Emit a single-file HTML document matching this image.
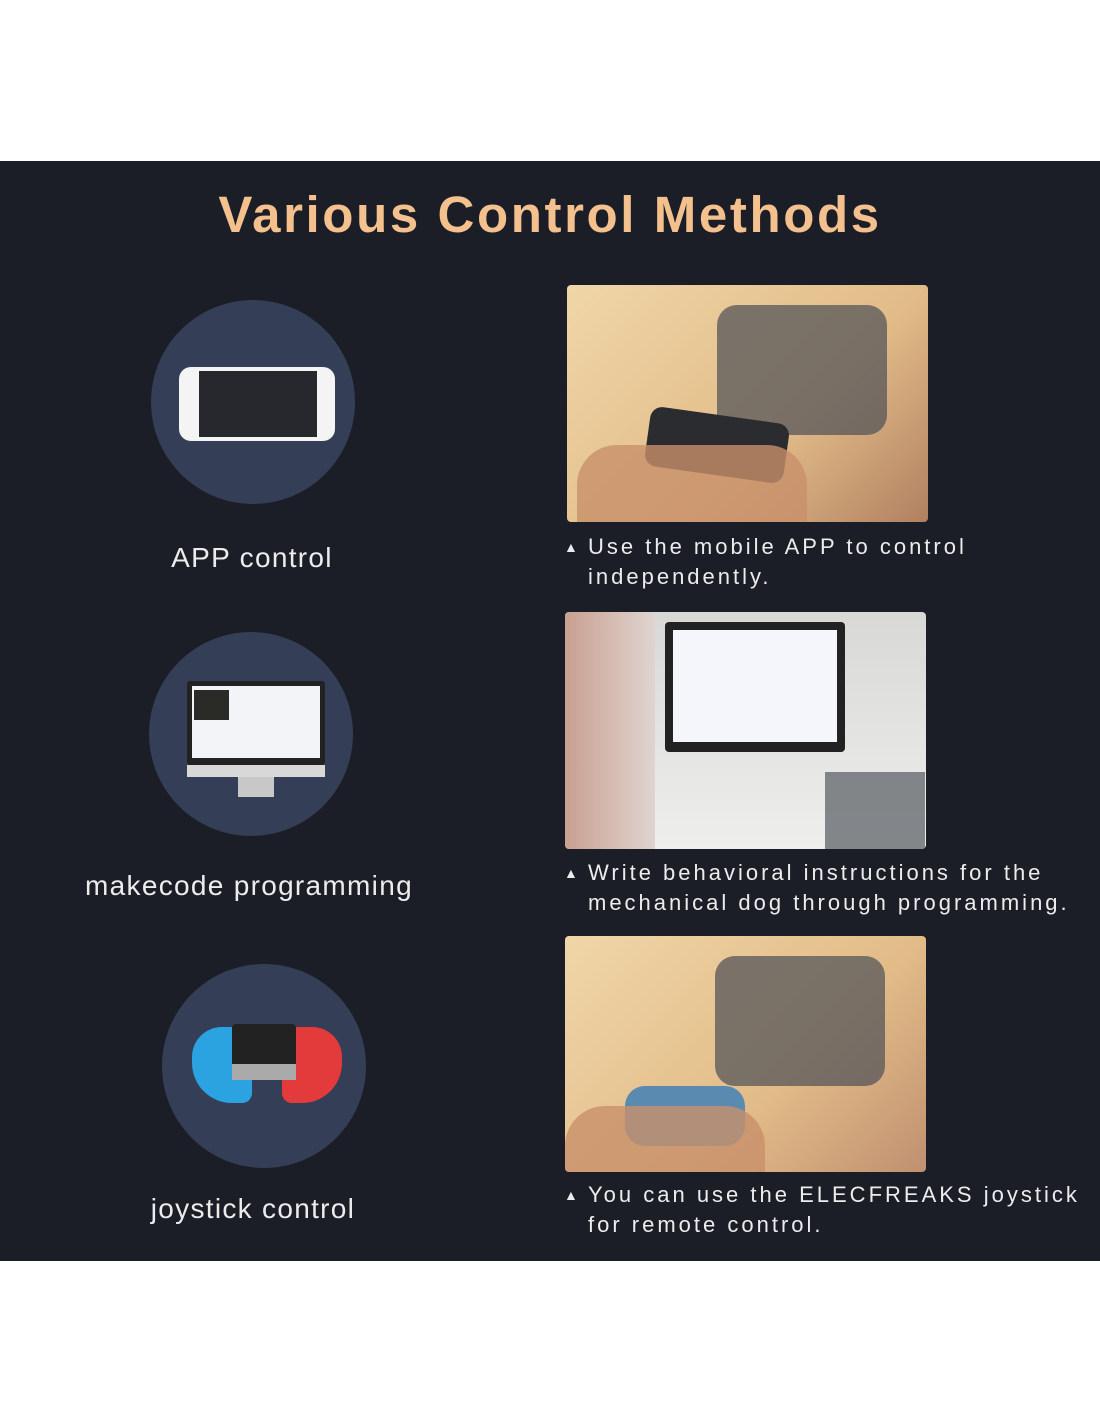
<!DOCTYPE html>
<html><head><style>
body{margin:0;width:1100px;height:1422px;background:#fff;position:relative;overflow:hidden;font-family:"Liberation Sans",sans-serif}
.panel{position:absolute;left:0;top:161px;width:1100px;height:1100px;background:#1b1e26}
.t{position:absolute;left:0;width:1100px;top:185px;text-align:center;font-size:51px;font-weight:bold;color:#f3c08e;letter-spacing:2.6px}
.c{position:absolute;width:204px;height:204px;border-radius:50%;background:#343e56}
.lbl{position:absolute;color:#ececec;font-size:28px;letter-spacing:1.3px;text-align:center;width:440px}
.ph{position:absolute;border-radius:4px;overflow:hidden}
.cap{position:absolute;left:566px;color:#ececec;font-size:22px;letter-spacing:3px;line-height:30px}
.cap span{position:absolute;left:-2px;font-size:14px;top:0}
.cap div{padding-left:22px}
</style></head><body>
<div class="panel"></div>
<div class="t">Various Control Methods</div>

<div class="c" style="left:151px;top:300px"></div>
<div style="position:absolute;left:179px;top:367px;width:156px;height:74px;background:#f4f4f4;border-radius:12px"></div>
<div style="position:absolute;left:199px;top:371px;width:118px;height:66px;background:#26282e"></div>
<div class="lbl" style="left:32px;top:542px">APP control</div>

<div class="c" style="left:149px;top:632px"></div>
<div style="position:absolute;left:187px;top:681px;width:138px;height:84px;background:#222;border-radius:3px"></div>
<div style="position:absolute;left:192px;top:686px;width:128px;height:72px;background:#f2f4f8"></div>
<div style="position:absolute;left:194px;top:690px;width:35px;height:30px;background:#2a2a26"></div>
<div style="position:absolute;left:187px;top:765px;width:138px;height:12px;background:#d8d8d8"></div>
<div style="position:absolute;left:238px;top:777px;width:36px;height:20px;background:#c8c8c8"></div>
<div class="lbl" style="left:29px;top:870px">makecode programming</div>

<div class="c" style="left:162px;top:964px"></div>
<div style="position:absolute;left:192px;top:1027px;width:60px;height:76px;background:#2aa3e0;border-radius:30px 10px 10px 40px"></div>
<div style="position:absolute;left:282px;top:1027px;width:60px;height:76px;background:#e33b3b;border-radius:10px 30px 40px 10px"></div>
<div style="position:absolute;left:232px;top:1024px;width:64px;height:56px;background:#222;border-radius:4px"></div>
<div style="position:absolute;left:232px;top:1064px;width:64px;height:16px;background:#aaa"></div>
<div class="lbl" style="left:33px;top:1193px">joystick control</div>

<div class="ph" style="left:567px;top:285px;width:361px;height:237px;background:linear-gradient(135deg,#f0d6a8,#e2bc88 60%,#b08060)">
 <div style="position:absolute;left:150px;top:20px;width:170px;height:130px;background:#55565a;opacity:.75;border-radius:20px"></div>
 <div style="position:absolute;left:80px;top:130px;width:140px;height:60px;background:#2b2c30;border-radius:12px;transform:rotate(8deg)"></div>
 <div style="position:absolute;left:10px;top:160px;width:230px;height:80px;background:#c8906a;border-radius:40px 40px 0 0;opacity:.8"></div>
</div>
<div class="cap" style="top:532px"><span>▲</span><div>Use the mobile APP to control<br>independently.</div></div>

<div class="ph" style="left:565px;top:612px;width:361px;height:237px;background:linear-gradient(180deg,#d8d8d6,#eeeeec)">
 <div style="position:absolute;left:100px;top:10px;width:180px;height:130px;background:#222;border-radius:4px"></div>
 <div style="position:absolute;left:108px;top:18px;width:164px;height:112px;background:#f4f6fb"></div>
 <div style="position:absolute;left:0;top:0;width:90px;height:237px;background:linear-gradient(90deg,#c8a090,#e0d4d0)"></div>
 <div style="position:absolute;left:260px;top:160px;width:100px;height:77px;background:#555a60;opacity:.7"></div>
</div>
<div class="cap" style="top:858px"><span>▲</span><div>Write behavioral instructions for the<br>mechanical dog through programming.</div></div>

<div class="ph" style="left:565px;top:936px;width:361px;height:236px;background:linear-gradient(135deg,#f0d6a8,#e2bc88 60%,#c09070)">
 <div style="position:absolute;left:150px;top:20px;width:170px;height:130px;background:#55565a;opacity:.75;border-radius:20px"></div>
 <div style="position:absolute;left:60px;top:150px;width:120px;height:60px;background:#5a8ab0;border-radius:20px"></div>
 <div style="position:absolute;left:0;top:170px;width:200px;height:66px;background:#c8906a;border-radius:40px 40px 0 0;opacity:.8"></div>
</div>
<div class="cap" style="top:1180px"><span>▲</span><div>You can use the ELECFREAKS joystick<br>for remote control.</div></div>
</body></html>
